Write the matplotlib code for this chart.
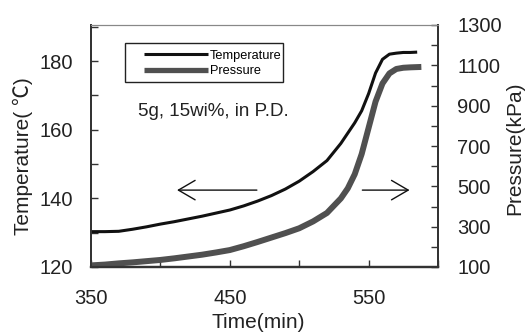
import matplotlib
matplotlib.use("Agg")
import matplotlib.pyplot as plt
from matplotlib.patches import Rectangle
from matplotlib.ticker import FixedLocator

plt.rcParams["font.family"] = ["Liberation Sans", "DejaVu Sans"]

# temperature (left axis, deg C)
time_t = [350, 360, 370, 380, 390, 400, 410, 420, 430, 440, 450, 460, 470, 480,
          490, 500, 510, 520, 530, 540, 545, 550, 555, 560, 565, 570, 575, 580, 585]
temp = [130.3, 130.3, 130.4, 131.0, 131.7, 132.5, 133.2, 134.0, 134.8, 135.7,
        136.6, 137.8, 139.2, 140.8, 142.7, 145.0, 147.8, 151.0, 156.0, 162.0,
        165.5, 170.5, 176.5, 180.5, 182.0, 182.3, 182.5, 182.5, 182.6]

# pressure (right axis, kPa)
time_p = [350, 360, 370, 380, 390, 400, 410, 420, 430, 440, 450, 460, 470, 480,
          490, 500, 510, 520, 530, 535, 540, 545, 550, 555, 560, 565, 570, 575,
          580, 588]
pres = [108, 112, 118, 123, 129, 135, 143, 152, 161, 172, 184, 203, 224, 246,
        268, 292, 326, 368, 440, 490, 560, 660, 790, 920, 1010, 1060, 1082,
        1088, 1090, 1092]

x_major = [350, 450, 550]
x_minor = [400, 500, 600]
t_major = [120, 140, 160, 180]
t_minor = [130, 150, 170, 190]
p_major = [100, 300, 500, 700, 900, 1100, 1300]
p_minor = [200, 400, 600, 800, 1000, 1200]

fig = plt.figure(figsize=(5.25, 3.34), dpi=100)
ax = fig.add_axes([91 / 525, 1 - 267 / 334, 347 / 525, 242 / 334])
ax2 = ax.twinx()

l1, = ax.plot(time_t, temp, color="#111111", lw=2.2, solid_capstyle="butt")
l2, = ax2.plot(time_p, pres, color="#505050", lw=4.3, solid_capstyle="butt")

ax.set_xlim(350, 600)
ax.set_ylim(120, 190.5)
ax2.set_ylim(100, 1300)

ax.xaxis.set_major_locator(FixedLocator(x_major))
ax.xaxis.set_minor_locator(FixedLocator(x_minor))
ax.yaxis.set_major_locator(FixedLocator(t_major))
ax.yaxis.set_minor_locator(FixedLocator(t_minor))
ax2.yaxis.set_major_locator(FixedLocator(p_major))
ax2.yaxis.set_minor_locator(FixedLocator(p_minor))

for a in (ax, ax2):
    a.tick_params(which="both", direction="in", length=5, width=1,
                  color="#333333", labelsize=14.5, labelcolor="#222222")
ax.tick_params(axis="x", pad=16)
ax.tick_params(axis="y", pad=13)
ax2.tick_params(axis="y", pad=14)
ax.tick_params(axis="x", which="both", top=False)
ax2.tick_params(axis="x", which="both", top=False, bottom=False)

for a in (ax, ax2):
    for s in ("left", "right", "bottom"):
        a.spines[s].set_color("#333333")
        a.spines[s].set_linewidth(1.3)
    a.spines["bottom"].set_linewidth(1.6)
    a.spines["top"].set_color("#888888")
    a.spines["top"].set_linewidth(0.8)

ax.set_xlabel("Time(min)", fontsize=15, color="#222222", va="center")
ax.xaxis.set_label_coords(0.481, -0.231)
ax.set_ylabel("Temperature( ℃)", fontsize=15, color="#222222",
              family=["Liberation Sans", "Noto Sans CJK SC"], va="center")
ax.yaxis.set_label_coords(-0.195, 0.459)
ax2.set_ylabel("Pressure(kPa)", fontsize=15, color="#222222", va="center")
ax2.yaxis.set_label_coords(1.222, 0.492)

# legend box and entries
ax2.add_patch(Rectangle(((125 - 91) / 347, (267 - 82) / 242), 158 / 347, 39 / 242,
                        transform=ax2.transAxes, fill=False, ec="#222222", lw=1.0))
leg = ax2.legend([l1, l2], ["Temperature", "Pressure"], loc="center left",
                 bbox_to_anchor=((138 - 91) / 347, (267 - 63.5) / 242),
                 frameon=False, borderpad=0, handlelength=5.0, handletextpad=0.1,
                 labelspacing=0.25, prop={"size": 9.2})
leg.get_lines()[0].set_linewidth(2.2)
leg.get_lines()[1].set_linewidth(3.8)

ax.text((138 - 91) / 347, (267 - 112) / 242, "5g, 15wi%, in P.D.",
        transform=ax.transAxes, fontsize=13.5, color="#222222", va="center", ha="left")

# direction arrows
ax.annotate("", xy=(412, 142.4), xytext=(469.5, 142.4),
            arrowprops=dict(arrowstyle="->,head_length=0.6,head_width=0.35",
                            color="#111111", lw=1.0, mutation_scale=20, shrinkA=0, shrinkB=0))
ax.annotate("", xy=(579.5, 142.4), xytext=(545.5, 142.4),
            arrowprops=dict(arrowstyle="->,head_length=0.6,head_width=0.35",
                            color="#111111", lw=1.0, mutation_scale=20, shrinkA=0, shrinkB=0))

fig.savefig("out.png", dpi=100)
